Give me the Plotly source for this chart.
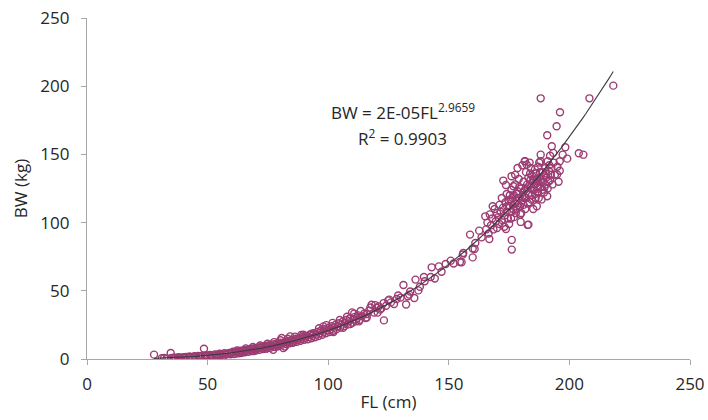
import numpy as np
import plotly.graph_objects as go

# Fork length (cm) and body weight (kg) of individual fish
fl_small = [27.8, 31, 32, 33, 34.7, 35, 36, 36.5, 37, 38, 38.5, 39, 40, 40.5, 41, 42, 42.5, 43, 44, 44.5,
            45, 46, 46.5, 47, 48.5, 48, 49, 49.5, 50, 51, 51.5, 52, 53, 53.5, 54, 55, 55.5, 56, 57, 57.5,
            58, 59, 59.5, 60]
bw_small = [3.2, 0.5, 0.7, 0.45, 4.4, 0.7, 1.0, 0.55, 0.9, 1.3, 0.7, 1.0, 1.3, 0.8, 1.5, 1.1, 1.8, 1.4, 1.2, 2.0,
            1.6, 2.2, 1.4, 2.0, 7.5, 2.4, 1.9, 2.8, 2.2, 3.0, 1.9, 2.7, 3.4, 2.5, 3.1, 3.8, 2.7, 3.5, 4.2, 3.1,
            3.8, 4.5, 3.5, 4.3]

fl_mid = [60.5, 61, 61.5, 62, 62.5, 63, 63.5, 64, 64.5, 65, 65.5, 66, 66.5, 67, 67.5, 68, 68.5, 69, 69.5, 70,
          70.5, 71, 71.5, 72, 72.5, 73, 73.5, 74, 74.5, 75, 75.5, 76, 76.5, 77, 77.2, 77.5, 77.9, 78, 78.5, 79,
          79.5, 80, 80.7, 80.5, 81, 81.4, 82, 82.1, 82.5, 83, 83.5, 84, 84.2, 84.5, 85, 85.5, 86, 86.5, 87, 87.5,
          88, 88.5, 89, 89.5, 89.7, 90, 90.5,
          62.2, 65.8, 68.8, 71.8, 74.8, 77.6, 80.2, 83.2, 86.2, 88.8, 63.8, 69.2, 74.2, 79.2, 85.2]
bw_mid = [5.3, 3.7, 5.0, 5.5, 4.1, 4.8, 6.0, 4.5, 5.7, 6.5, 4.9, 6.1, 7.0, 5.3, 6.5, 7.5, 5.9, 7.1, 8.0, 6.3,
          7.5, 8.5, 6.7, 8.1, 9.1, 7.3, 8.7, 9.7, 7.7, 9.1, 10.1, 8.3, 9.7, 10.7, 6.8, 8.9, 8.8, 10.3, 11.3, 9.5,
          10.8, 12.0, 15.4, 10.1, 11.5, 8.1, 12.5, 9.2, 10.9, 12.1, 13.3, 11.5, 16.6, 12.9, 14.1, 12.1, 13.5, 14.8, 12.7, 14.3,
          15.5, 13.3, 15.0, 16.3, 17.8, 14.1, 15.7,
          6.3, 7.8, 8.8, 9.9, 11.2, 12.4, 13.8, 14.9, 16.4, 17.6, 4.4, 5.9, 7.6, 9.3, 11.8]

fl_large = [91, 91.5, 92, 92.5, 93, 93.2, 93.5, 94, 94.5, 95, 95.5, 96, 96.5, 97, 97.5, 98, 98, 98.5, 99, 99.5,
            100, 100.5, 101, 101.5, 102, 102.5, 103, 103.5, 104, 104.5, 105, 105.5, 106, 106.5, 107, 107.5, 108,
            108.5, 109, 109.9, 110, 110.5, 111, 111.5, 112, 112.5, 113, 114, 115, 116, 116,
            96.2, 99.2, 101.8, 104.8, 107.8, 110.8, 113.5, 117.5, 119.5, 102.2, 106.2, 109.2, 112.8, 115.5, 120.5]
bw_large = [16.9, 14.4, 16.2, 18.0, 15.2, 18.6, 17.0, 18.9, 16.0, 17.9, 19.9, 16.9, 19.0, 20.9, 17.8, 20.0, 23.9, 22.0, 18.8, 21.0,
            22.9, 19.8, 22.0, 24.0, 20.7, 23.0, 25.0, 21.9, 24.0, 26.2, 23.0, 25.2, 27.4, 24.0, 26.4, 28.6, 25.2,
            27.6, 29.9, 34.2, 26.6, 28.9, 30.9, 27.6, 30.0, 32.0, 28.8, 31.4, 33.4, 30.4, 32.9,
            22.5, 24.8, 26.5, 28.6, 31.0, 33.3, 35.2, 37.8, 39.5, 19.8, 22.8, 25.6, 27.6, 30.0, 34.0]

fl_sub = [117, 118, 119, 120, 121, 121.5, 122, 123.1, 123, 124, 124.9, 125.3, 126, 127.3, 128.4, 129, 130,
          131.2, 132.3, 133, 133.6, 134, 135.7, 136.2, 137.4, 138, 139.7, 140, 142.5, 142.9, 144.2, 145.9,
          147, 148.7, 150.8, 152, 154.6, 155.3, 155.8, 156, 158.8, 159.9, 159.9, 160.7, 161, 162.6, 163.6]
bw_sub = [35.5, 39.8, 34.0, 37.5, 38.6, 36.2, 37.0, 28.3, 41.0, 39.0, 43.0, 43.5, 41.5, 40.3, 44.0, 46.5, 45.0,
          54.3, 40.0, 46.0, 47.2, 49.5, 44.7, 58.2, 50.3, 53.0, 60.1, 57.0, 60.1, 67.2, 59.0, 67.9,
          64.0, 69.7, 72.1, 70.0, 71.1, 70.9, 76.5, 77.7, 91.2, 74.5, 81.0, 80.7, 85.0, 94.1, 89.2]

fl_adult = [165.1, 165.5, 166, 166.5, 167, 167.5, 168, 168.5, 169, 169.5, 170, 170, 166.8, 168.2,
            170.5, 171, 171, 171.5, 172, 172, 172.5, 173, 173, 173.5, 174, 174, 174.5, 175, 175, 173.7, 172.6, 173.7,
            175.5, 176, 176, 176.1, 176.1, 176.5, 177, 177, 177.5, 178, 178, 178.5, 179, 179, 179.5, 179.8, 180, 180, 177.5, 178.5,
            180.5, 181, 181, 181.5, 182, 182, 182.5, 182.7, 183, 183, 183, 183.5, 184, 184, 184.5, 185, 185, 180.5, 181.5, 183.5,
            185.5, 186, 186, 186.5, 187, 187, 187.5, 188, 188, 188.5, 189, 189, 189.5, 190, 190, 188.1, 190.8, 186.5, 187.5,
            190.5, 191, 191, 191.5, 192, 192, 192.5, 193, 193.3, 193.5, 194, 194.9, 195, 195.5, 196, 196, 197.2, 198.3, 199.1,
            192.7, 190.8, 194.7, 196.1, 188.1, 203.9, 205.8, 208.3, 218.2,
            176.5, 177.5, 178.2, 179.2, 180.2, 180.8, 181.3, 182.2, 182.8, 183.3, 183.8, 184.3, 184.8, 185.3, 185.8, 186.3,
            186.8, 187.3, 187.8, 188.3, 188.8, 189.3, 181.7, 179.7, 178.8, 177.8, 176.8, 175.8, 174.8, 174.2, 175.3, 183.7,
            185.7, 184.6, 186.9, 189.7, 190.3, 191.3, 192.3, 191.7, 176.8, 181.6, 182.3, 176.0]
bw_adult = [104.6, 95, 100, 92, 106, 98, 103, 95, 110, 101, 96, 107, 88, 112,
            104, 99, 113, 108, 102, 118, 111, 105, 97, 115, 108, 121, 103, 112, 99, 95.3, 130.8, 127.6,
            117, 108, 124, 87.3, 80.2, 113, 120, 104, 128, 116, 110, 123, 118, 132, 112, 100.5, 125, 107, 135, 140,
            119, 130, 113, 124, 137, 118, 128, 98.3, 121, 98.5, 133, 115, 126, 140, 120, 131, 110, 142, 145, 144,
            124, 136, 118, 129, 141, 122, 133, 126, 145, 117, 137, 130, 122, 140, 128, 149.8, 119.3, 112, 144,
            133, 145, 125, 138, 131, 149, 140, 128, 151.1, 144, 135, 135.2, 141, 130, 145, 138, 149.8, 155.2, 146.9,
            156, 164, 170.6, 180.9, 191.1, 150.8, 149.8, 191.1, 200.4,
            118, 114, 121, 126, 116, 122, 119, 125, 114, 127, 131, 117, 124, 128, 121, 132,
            126, 118, 137, 131, 124, 134, 110, 106, 113, 107, 110, 103, 116, 112, 120, 136,
            139, 134, 130, 126, 136, 130, 135, 142, 126.6, 145, 142.5, 134]

fl = np.array(fl_small + fl_mid + fl_large + fl_sub + fl_adult, dtype=float)
bw = np.array(bw_small + bw_mid + bw_large + bw_sub + bw_adult, dtype=float)

# Power trend line BW = a * FL^b, fitted by least squares in log-log space
b, log_a = np.polyfit(np.log(fl), np.log(bw), 1)
fit_x = np.linspace(fl.min(), fl.max(), 200)
fit_y = np.exp(log_a) * fit_x ** b

axis_color = "#a6a6a6"
text_color = "#262626"
font_family = "Open Sans, Liberation Sans, Arial, sans-serif"

fig = go.Figure()
fig.add_trace(go.Scatter(
    x=fl, y=bw, mode="markers",
    marker=dict(symbol="circle-open", size=7, color="#9c3c72", line=dict(width=1.4)),
    showlegend=False, hoverinfo="x+y",
))
fig.add_trace(go.Scatter(
    x=fit_x, y=fit_y, mode="lines",
    line=dict(color="#3a3a3a", width=1.1),
    showlegend=False, hoverinfo="skip",
))

common_axis = dict(
    showgrid=False, zeroline=False, showline=True, linecolor=axis_color, linewidth=1.3,
    ticks="outside", ticklen=5, tickcolor=axis_color, tickwidth=1.3,
    tickfont=dict(family=font_family, size=17, color=text_color),
    dtick=50, range=[0, 250], automargin=False,
)

fig.update_layout(
    width=708, height=420,
    margin=dict(l=87, r=18, t=18, b=61),
    paper_bgcolor="white", plot_bgcolor="white",
    font=dict(family=font_family, size=17, color=text_color),
    xaxis=dict(**common_axis, title=dict(text="FL (cm)", font=dict(size=17), standoff=2),
               ticklabelstandoff=4),
    yaxis=dict(**common_axis, title=dict(text="BW (kg)", font=dict(size=17), standoff=8),
               ticklabelstandoff=8),
    annotations=[
        dict(x=131, y=181.5, xref="x", yref="y", showarrow=False,
             text="BW = 2E-05FL<sup>2.9659</sup>", font=dict(size=17, color=text_color)),
        dict(x=131, y=162.5, xref="x", yref="y", showarrow=False,
             text="R<sup>2</sup> = 0.9903", font=dict(size=17, color=text_color)),
    ],
)

fig.write_html("out.html")
